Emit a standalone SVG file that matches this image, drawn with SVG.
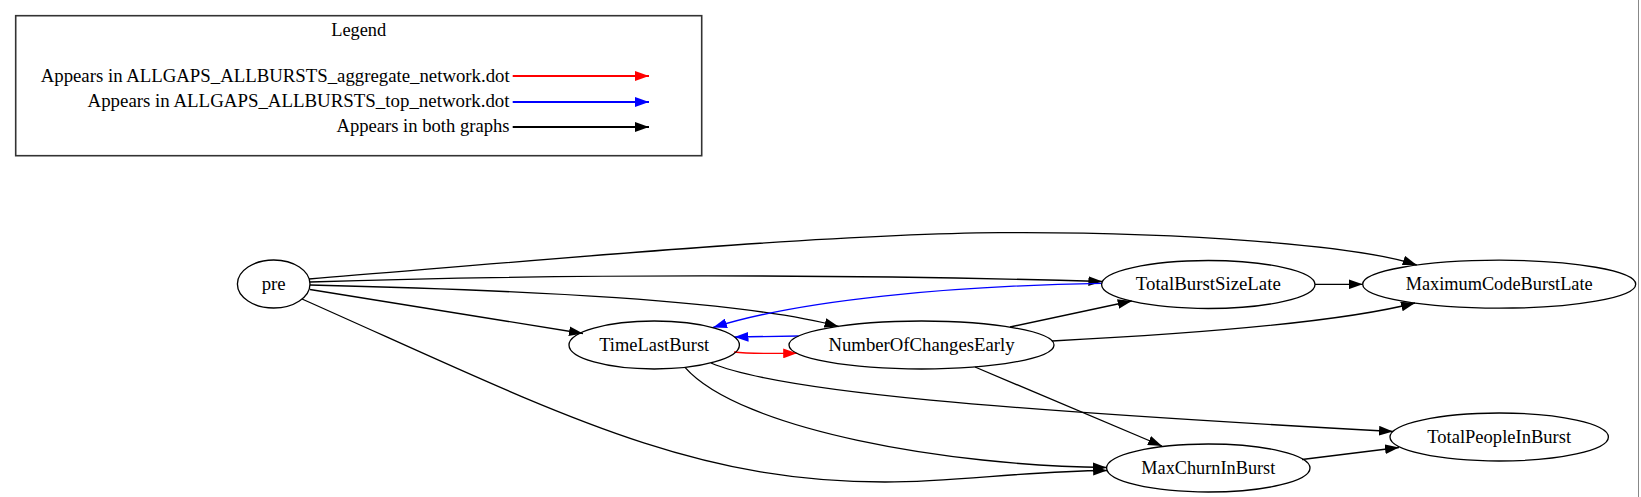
<svg xmlns="http://www.w3.org/2000/svg" width="1641" height="497" viewBox="0 0 1641 497">
<style>
text{font-family:"Liberation Serif","Times New Roman","DejaVu Serif","Noto Serif",serif;font-size:18.67px;fill:#000}
.n ellipse{fill:none;stroke:#000;stroke-width:1.33}
.n text{text-anchor:middle}
.e path{fill:none;stroke-width:1.33}
.k{stroke:#000}
.r{stroke:#f00}
.b{stroke:#00f}
.lg{fill:none;stroke:#333;stroke-width:1.6}
.la{stroke-width:2;fill:none}
</style>
<defs>
<marker id="ak" markerUnits="userSpaceOnUse" markerWidth="14" markerHeight="10" viewBox="0 0 13.33 9.33" refX="13.33" refY="4.67" orient="auto"><path d="M0,0 L13.33,4.67 L0,9.33 z" fill="#000"/></marker>
<marker id="ar" markerUnits="userSpaceOnUse" markerWidth="14" markerHeight="10" viewBox="0 0 13.33 9.33" refX="13.33" refY="4.67" orient="auto"><path d="M0,0 L13.33,4.67 L0,9.33 z" fill="#f00"/></marker>
<marker id="ab" markerUnits="userSpaceOnUse" markerWidth="14" markerHeight="10" viewBox="0 0 13.33 9.33" refX="13.33" refY="4.67" orient="auto"><path d="M0,0 L13.33,4.67 L0,9.33 z" fill="#00f"/></marker>
</defs>
<rect width="1641" height="497" fill="#fff"/>
<line x1="1638.5" y1="0" x2="1638.5" y2="497" stroke="#888" stroke-width="1"/>
<g id="legend">
<rect class="lg" x="15.7" y="15.7" width="686" height="140"/>
<text x="358.7" y="36" text-anchor="middle" textLength="55" lengthAdjust="spacingAndGlyphs">Legend</text>
<text x="40.7" y="81.5" textLength="469" lengthAdjust="spacingAndGlyphs">Appears in ALLGAPS_ALLBURSTS_aggregate_network.dot</text>
<text x="87.5" y="107" textLength="422" lengthAdjust="spacingAndGlyphs">Appears in ALLGAPS_ALLBURSTS_top_network.dot</text>
<text x="336.5" y="132" textLength="173" lengthAdjust="spacingAndGlyphs">Appears in both graphs</text>
<path class="la r" d="M512.7,76 L649,76" marker-end="url(#ar)"/>
<path class="la b" d="M512.7,102 L649,102" marker-end="url(#ab)"/>
<path class="la k" d="M512.7,127 L649,127" marker-end="url(#ak)"/>
</g>
<g id="edges" class="e">
<path class="k" d="M309,279 C520,262 820,234 1000,232.7 C1180,231.5 1360,245.6 1416.7,265" marker-end="url(#ak)"/>
<path class="k" d="M310,282 C550,274 850,274 1102.4,281.5" marker-end="url(#ak)"/>
<path class="k" d="M310,285 C520,290 740,300 838.5,326.5" marker-end="url(#ak)"/>
<path class="k" d="M310,289.5 L583,333.5" marker-end="url(#ak)"/>
<path class="k" d="M302,299 C552,410 685,482 885,482 C960,482 1020,471 1107.2,470.5" marker-end="url(#ak)"/>
<path class="k" d="M685,367.4 C740,430 950,466 1106.6,467.5" marker-end="url(#ak)"/>
<path class="k" d="M711,363 C780,392 1000,410 1393,431.5" marker-end="url(#ak)"/>
<path class="r" d="M734,352 C750,354 770,353.5 797.2,353.3" marker-end="url(#ar)"/>
<path class="b" d="M798.6,336 L734.5,337" marker-end="url(#ab)"/>
<path class="b" d="M1101.7,283.3 C950,286 800,300 713,327.5" marker-end="url(#ab)"/>
<path class="k" d="M1010,327 L1131.7,301" marker-end="url(#ak)"/>
<path class="k" d="M1052,341 C1150,336 1330,325 1415,303" marker-end="url(#ak)"/>
<path class="k" d="M975,367 L1162,446" marker-end="url(#ak)"/>
<path class="k" d="M1315,284.3 L1362.7,284.3" marker-end="url(#ak)"/>
<path class="k" d="M1302,459.5 L1399,447.5" marker-end="url(#ak)"/>
</g>
<g id="pre" class="n"><ellipse cx="273.7" cy="284" rx="36.3" ry="24"/><text x="273.7" y="289.5" textLength="24" lengthAdjust="spacingAndGlyphs">pre</text></g>
<g id="TimeLastBurst" class="n"><ellipse cx="654.2" cy="345" rx="85.2" ry="24"/><text x="654.2" y="350.5" textLength="110" lengthAdjust="spacingAndGlyphs">TimeLastBurst</text></g>
<g id="NumberOfChangesEarly" class="n"><ellipse cx="921.5" cy="345" rx="132.5" ry="24"/><text x="921.5" y="350.5" textLength="186" lengthAdjust="spacingAndGlyphs">NumberOfChangesEarly</text></g>
<g id="TotalBurstSizeLate" class="n"><ellipse cx="1208.3" cy="284.5" rx="106.7" ry="24"/><text x="1208.3" y="290" textLength="145" lengthAdjust="spacingAndGlyphs">TotalBurstSizeLate</text></g>
<g id="MaximumCodeBurstLate" class="n"><ellipse cx="1499.2" cy="284.2" rx="136.5" ry="24"/><text x="1499.2" y="289.7" textLength="187" lengthAdjust="spacingAndGlyphs">MaximumCodeBurstLate</text></g>
<g id="MaxChurnInBurst" class="n"><ellipse cx="1208.3" cy="468" rx="101.7" ry="24"/><text x="1208.3" y="473.5" textLength="134" lengthAdjust="spacingAndGlyphs">MaxChurnInBurst</text></g>
<g id="TotalPeopleInBurst" class="n"><ellipse cx="1499.2" cy="437" rx="109.2" ry="24"/><text x="1499.2" y="442.5" textLength="144" lengthAdjust="spacingAndGlyphs">TotalPeopleInBurst</text></g>
</svg>
